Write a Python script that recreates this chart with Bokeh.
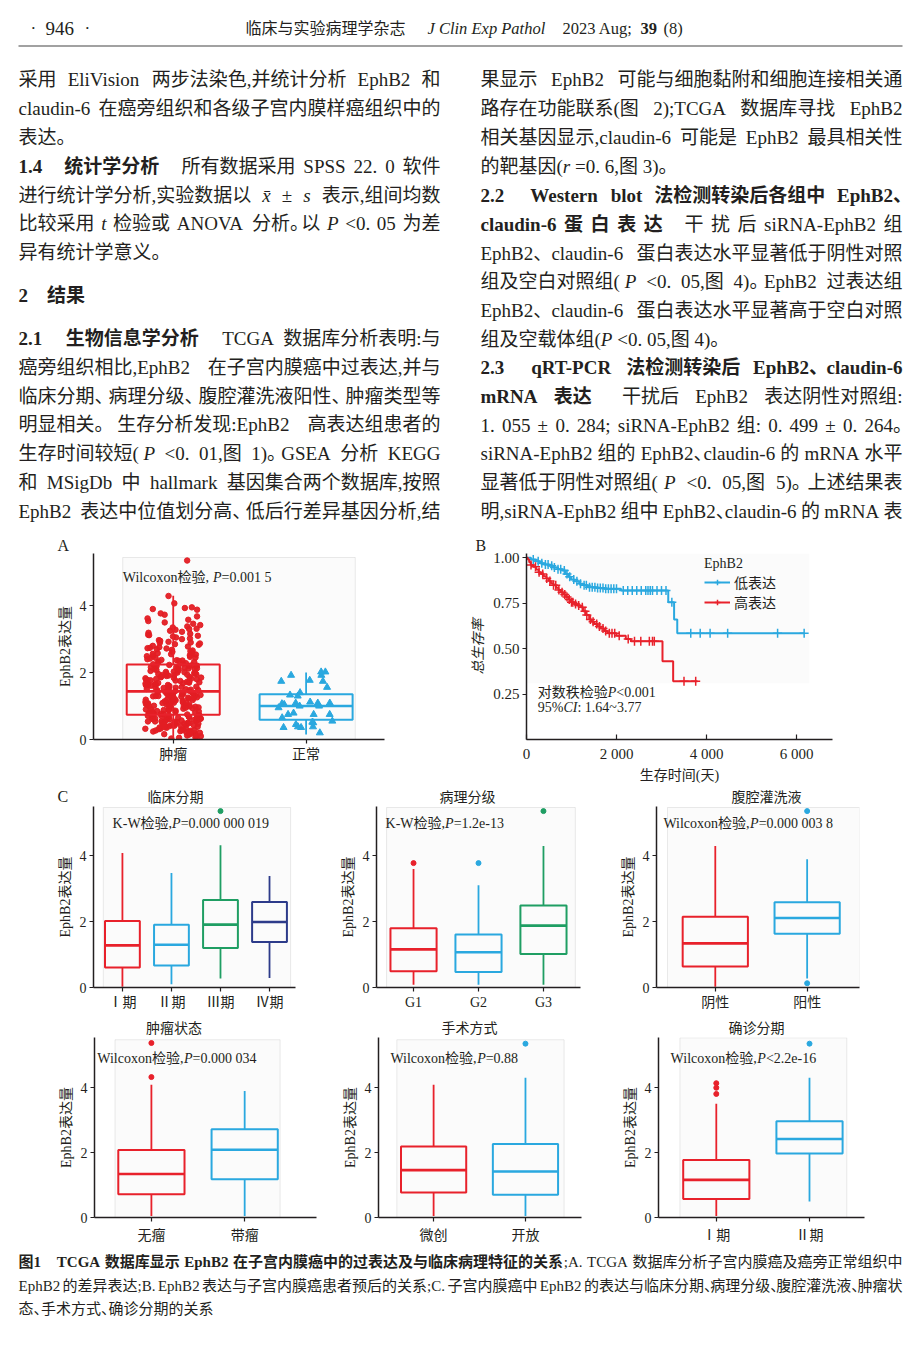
import numpy as np
from bokeh.plotting import figure
from bokeh.models import (ColumnDataSource, Range1d, FixedTicker, Label, BoxAnnotation,
                          Legend, LegendItem, NumeralTickFormatter, Title)
from bokeh.layouts import column, row
from bokeh.transform import jitter
from bokeh.core.properties import value
from bokeh.embed import file_html
from bokeh.resources import INLINE

FONT = "Liberation Serif, Noto Sans CJK SC"
TXT = "#231f20"
RED = "#e8212b"; BLUE = "#2aa8df"; GREEN = "#1f9e63"; NAVY = "#2d3b8a"
PANEL = "#f6f6f6"; PANEL_LINE = "#b8b8b8"

# ====================== DATA ======================
# Panel A: tumour vs normal
a_groups = ["肿瘤", "正常"]
a_q1 = [0.74, 0.59]
a_med = [1.44, 1.00]
a_q3 = [2.24, 1.35]
a_lo = [0.0, 0.15]
a_hi = [4.30, 2.00]
tumor_expr = [
    0.03, 0.05, 0.07, 0.09, 0.1, 0.12, 0.13, 0.15, 0.16, 0.18, 0.19, 0.21, 0.22, 0.24, 0.25, 0.26, 0.28, 0.29, 0.3, 0.31,
    0.33, 0.34, 0.35, 0.36, 0.38, 0.39, 0.4, 0.41, 0.42, 0.44, 0.45, 0.46, 0.47, 0.48, 0.5, 0.51, 0.52, 0.53, 0.54, 0.55,
    0.56, 0.57, 0.58, 0.59, 0.6, 0.61, 0.62, 0.63, 0.64, 0.65, 0.66, 0.67, 0.68, 0.69, 0.7, 0.71, 0.72, 0.73, 0.11, 0.2,
    0.27, 0.37, 0.43, 0.49, 0.57, 0.63, 0.68, 0.23, 0.32, 0.46, 0.54, 0.61, 0.66, 0.71, 0.4,
    0.75, 0.76, 0.77, 0.78, 0.79, 0.8, 0.81, 0.82, 0.84, 0.85, 0.86, 0.87, 0.88, 0.9, 0.91, 0.92, 0.93, 0.94, 0.96, 0.97,
    0.98, 0.99, 1.0, 1.01, 1.02, 1.03, 1.05, 1.06, 1.07, 1.08, 1.09, 1.1, 1.11, 1.12, 1.13, 1.15, 1.16, 1.17, 1.18, 1.19,
    1.2, 1.21, 1.22, 1.23, 1.25, 1.26, 1.27, 1.28, 1.29, 1.3, 1.31, 1.32, 1.33, 1.34, 1.35, 1.36, 1.37, 1.38, 1.39, 1.4,
    1.41, 1.42, 1.43, 0.83, 0.95, 1.04, 1.14, 1.24, 0.89, 1.0, 1.1, 1.2, 1.3, 1.38, 1.02,
    1.45, 1.46, 1.47, 1.48, 1.5, 1.51, 1.52, 1.53, 1.55, 1.56, 1.57, 1.58, 1.6, 1.61, 1.62, 1.63, 1.65, 1.66, 1.67, 1.68,
    1.7, 1.71, 1.72, 1.73, 1.75, 1.76, 1.77, 1.78, 1.8, 1.81, 1.82, 1.83, 1.85, 1.86, 1.87, 1.88, 1.9, 1.91, 1.92, 1.93,
    1.95, 1.96, 1.97, 1.98, 2.0, 2.01, 2.02, 2.03, 2.05, 2.06, 2.07, 2.08, 2.1, 2.11, 2.12, 2.13, 2.15, 2.16, 2.17, 2.18,
    2.19, 2.2, 2.21, 2.22, 2.23, 1.49, 1.64, 1.79, 1.94, 2.09, 1.54, 1.69, 1.84, 1.99, 2.14,
    2.25, 2.27, 2.28, 2.3, 2.32, 2.33, 2.35, 2.37, 2.38, 2.4, 2.42, 2.44, 2.45, 2.47, 2.49, 2.5, 2.52, 2.54, 2.56, 2.58,
    2.6, 2.62, 2.64, 2.66, 2.68, 2.7, 2.72, 2.74, 2.76, 2.78, 2.8, 2.83, 2.85, 2.87, 2.9, 2.92, 2.95, 2.97, 3.0, 3.02,
    3.05, 3.08, 3.1, 3.13, 3.16, 3.19, 3.22, 3.25, 3.28, 3.31, 3.35, 3.38, 3.42, 3.46, 3.5, 3.54, 3.58, 3.62, 3.68, 3.73,
    3.77, 3.88, 3.9, 3.93, 3.95, 4.07, 4.29, 2.36, 2.55, 2.73, 2.89, 3.12, 3.3, 5.35]
normal_expr = [2.02, 1.92, 2.02, 1.92, 1.74, 1.74, 1.77, 1.56, 1.40, 1.30, 1.33, 1.09, 1.07, 1.0, 0.95, 1.0, 1.09,
               1.09, 1.05, 1.12, 0.79, 0.75, 0.75, 0.75, 0.65, 0.55, 0.5, 0.52, 0.45, 0.36, 0.36, 0.38, 0.38, 0.20]

# Panel B: Kaplan-Meier
km_low_t = [0, 100, 200, 300, 400, 500, 600, 700, 800, 870, 930, 990, 1060, 1170, 1260, 1360, 1550, 1730, 2100, 3150, 3280, 3350]
km_low_s = [1.0, 0.99, 0.98, 0.97, 0.962, 0.955, 0.946, 0.937, 0.93, 0.91, 0.895, 0.88, 0.87, 0.857, 0.848, 0.838, 0.833, 0.829, 0.82, 0.755, 0.66, 0.585]
km_low_end = 6170
km_high_t = [0, 30, 60, 96, 150, 210, 270, 319, 380, 440, 500, 541, 600, 660, 710, 763, 820, 880, 940, 985, 1060, 1130,
             1207, 1260, 1319, 1393, 1450, 1504, 1580, 1652, 1730, 1800, 2000, 2207, 2319, 3022, 3259]
km_high_s = [1.0, 0.99, 0.975, 0.96, 0.95, 0.935, 0.92, 0.91, 0.898, 0.885, 0.872, 0.86, 0.848, 0.835, 0.822, 0.81, 0.797,
             0.784, 0.77, 0.755, 0.745, 0.737, 0.728, 0.705, 0.685, 0.66, 0.648, 0.635, 0.622, 0.61, 0.597, 0.585, 0.57,
             0.553, 0.54, 0.43, 0.32]
km_high_end = 3800
km_low_cens = [150, 260, 340, 420, 480, 560, 620, 700, 760, 840, 900, 960, 1050, 1120, 1200, 1280, 1330, 1400, 1460,
               1520, 1580, 1640, 1700, 1760, 1820, 1880, 1940, 2000, 2150, 2250, 2350, 2450, 2550, 2650, 2700, 2750,
               2800, 2900, 3000, 3100, 3230, 3650, 3860, 4080, 4470, 5580, 6170]
km_high_cens = [100, 200, 280, 360, 450, 520, 600, 650, 720, 790, 850, 900, 950, 1000, 1030, 1090, 1160, 1240, 1300,
                1340, 1420, 1480, 1560, 1620, 1700, 1760, 1840, 1900, 1960, 2060, 2260, 2400, 2540, 2730, 2800, 2840,
                3500, 3760]

# Panels C
c1_groups = ["Ⅰ期", "Ⅱ期", "Ⅲ期", "Ⅳ期"]
c1_q1 = [0.61, 0.67, 1.20, 1.38]; c1_med = [1.28, 1.30, 1.91, 1.99]; c1_q3 = [2.02, 1.91, 2.66, 2.60]
c1_lo = [0.02, 0.10, 0.27, 0.29]; c1_hi = [4.09, 3.48, 4.32, 3.39]
c1_out_g = [3]; c1_out_v = [5.36]

c2_groups = ["G1", "G2", "G3"]
c2_q1 = [0.49, 0.47, 1.02]; c2_med = [1.16, 1.07, 1.88]; c2_q3 = [1.80, 1.61, 2.49]
c2_lo = [0.08, 0.08, 0.08]; c2_hi = [3.60, 3.11, 4.30]
c2_out_g = [1, 2, 3]; c2_out_v = [3.78, 3.78, 5.36]

c3_groups = ["阴性", "阳性"]
c3_q1 = [0.64, 1.63]; c3_med = [1.34, 2.11]; c3_q3 = [2.15, 2.59]
c3_lo = [0.02, 0.27]; c3_hi = [4.30, 3.90]
c3_out_g = [2, 2]; c3_out_v = [0.13, 5.36]

c4_groups = ["无瘤", "带瘤"]
c4_q1 = [0.72, 1.18]; c4_med = [1.34, 2.09]; c4_q3 = [2.08, 2.72]
c4_lo = [0.05, 0.05]; c4_hi = [4.09, 3.90]
c4_out_g = [1, 1]; c4_out_v = [4.33, 5.38]

c5_groups = ["微创", "开放"]
c5_q1 = [0.77, 0.70]; c5_med = [1.46, 1.42]; c5_q3 = [2.19, 2.27]
c5_lo = [0.05, 0.05]; c5_hi = [4.09, 4.31]
c5_out_g = [2]; c5_out_v = [5.36]

c6_groups = ["Ⅰ期", "Ⅱ期"]
c6_q1 = [0.57, 1.97]; c6_med = [1.16, 2.42]; c6_q3 = [1.77, 2.97]
c6_lo = [0.05, 0.49]; c6_hi = [3.51, 4.31]
c6_out_g = [1, 1, 1, 2]; c6_out_v = [4.14, 4.00, 3.81, 5.36]

panel_titles = ["临床分期", "病理分级", "腹腔灌洗液", "肿瘤状态", "手术方式", "确诊分期"]
panel_letters = ["A", "B", "C"]

# ====================== TEXT ======================
N, BD, IT = 'n', 'b', 'i'
header_items = [("·", N, 30, 17), ("946", N, 45, 19), ("·", N, 84, 17),
                ("临床与实验病理学杂志", N, 245, 16), ("J Clin Exp Pathol", IT, 427, 16.5),
                ("2023 Aug;", N, 562, 16.5), ("39", BD, 640, 16.5), ("(8)", N, 663, 16.5)]
left_lines = [
    (79, [("采用 EliVision 两步法染色,并统计分析 EphB2 和", N)], True),
    (108, [("claudin-6 在癌旁组织和各级子宫内膜样癌组织中的", N)], True),
    (137, [("表达。", N)], False),
    (166, [("1.4\u3000统计学分析", BD), ("\u3000所有数据采用 SPSS 22. 0 软件", N)], True),
    (195, [("进行统计学分析,实验数据以 ", N), ("x\u0304", IT), (" ± ", N), ("s", IT), (" 表示,组间均数", N)], True),
    (223, [("比较采用 ", N), ("t", IT), (" 检验或 ANOVA 分析。以 ", N), ("P", IT), (" <0. 05 为差", N)], True),
    (252, [("异有统计学意义。", N)], False),
    (295, [("2\u3000结果", BD)], False),
    (338, [("2.1\u3000生物信息学分析", BD), ("\u3000TCGA 数据库分析表明:与", N)], True),
    (367, [("癌旁组织相比,EphB2 在子宫内膜癌中过表达,并与", N)], True),
    (396, [("临床分期、病理分级、腹腔灌洗液阳性、肿瘤类型等", N)], True),
    (424, [("明显相关。生存分析发现:EphB2 高表达组患者的", N)], True),
    (453, [("生存时间较短(", N), ("P", IT), (" <0. 01,图 1)。GSEA 分析 KEGG", N)], True),
    (482, [("和 MSigDb 中 hallmark 基因集合两个数据库,按照", N)], True),
    (511, [("EphB2 表达中位值划分高、低后行差异基因分析,结", N)], True),
]
right_lines = [
    (79, [("果显示 EphB2 可能与细胞黏附和细胞连接相关通", N)], True),
    (108, [("路存在功能联系(图 2);TCGA 数据库寻找 EphB2", N)], True),
    (137, [("相关基因显示,claudin-6 可能是 EphB2 最具相关性", N)], True),
    (166, [("的靶基因(", N), ("r", IT), (" =0. 6,图 3)。", N)], False),
    (195, [("2.2\u3000Western blot 法检测转染后各组中 EphB2、", BD)], True),
    (224, [("claudin-6 蛋 白 表 达", BD), ("\u3000干 扰 后 siRNA-EphB2 组", N)], True),
    (253, [("EphB2、claudin-6 蛋白表达水平显著低于阴性对照", N)], True),
    (281, [("组及空白对照组(", N), ("P", IT), (" <0. 05,图 4)。EphB2 过表达组", N)], True),
    (310, [("EphB2、claudin-6 蛋白表达水平显著高于空白对照", N)], True),
    (339, [("组及空载体组(", N), ("P", IT), (" <0. 05,图 4)。", N)], False),
    (367, [("2.3\u3000qRT-PCR 法检测转染后 EphB2、claudin-6", BD)], True),
    (396, [("mRNA 表达", BD), ("\u3000干扰后 EphB2 表达阴性对照组:", N)], True),
    (425, [("1. 055 ± 0. 284; siRNA-EphB2 组: 0. 499 ± 0. 264。", N)], True),
    (453, [("siRNA-EphB2 组的 EphB2、claudin-6 的 mRNA 水平", N)], True),
    (482, [("显著低于阴性对照组(", N), ("P", IT), (" <0. 05,图 5)。上述结果表", N)], True),
    (511, [("明,siRNA-EphB2 组中 EphB2、claudin-6 的 mRNA 表", N)], True),
]
caption_lines = [
    (1261, [("图1\u3000TCGA 数据库显示 EphB2 在子宫内膜癌中的过表达及与临床病理特征的关系", BD),
            (";A. TCGA 数据库分析子宫内膜癌及癌旁正常组织中", N)], True),
    (1285, [("EphB2 的差异表达;B. EphB2 表达与子宫内膜癌患者预后的关系;C. 子宫内膜癌中 EphB2 的表达与临床分期、病理分级、腹腔灌洗液、肿瘤状", N)], True),
    (1308, [("态、手术方式、确诊分期的关系", N)], False),
]

# ====================== TEXT METRICS ======================
UP = "ABCDEFGHIJKLMNOPQRSTUVWXYZ"; LO = "abcdefghijklmnopqrstuvwxyz"
TN = {c: 500 for c in "0123456789"}
TN.update({' ': 250, '%': 833, '(': 333, ')': 333, ',': 250, '-': 333, '.': 250, ':': 278, ';': 278, '<': 564,
           '=': 564, '~': 541, '±': 564, '\u0304': 0, '·': 250})
TN.update(dict(zip(UP, [722, 667, 667, 722, 611, 556, 722, 722, 333, 389, 722, 611, 889, 722, 722, 556, 722, 667, 556, 611, 722, 722, 944, 722, 722, 611])))
TN.update(dict(zip(LO, [444, 500, 444, 500, 444, 333, 500, 500, 278, 278, 500, 278, 778, 500, 500, 500, 500, 333, 389, 278, 500, 500, 722, 500, 500, 444])))
TB = dict(TN); TB.update({':': 333, ';': 333})
TB.update(dict(zip(UP, [722, 667, 722, 722, 667, 611, 778, 778, 389, 500, 778, 667, 944, 722, 778, 611, 778, 722, 556, 667, 722, 722, 1000, 722, 722, 667])))
TB.update(dict(zip(LO, [500, 556, 444, 556, 444, 333, 500, 556, 278, 333, 556, 278, 833, 556, 500, 556, 556, 444, 389, 333, 556, 500, 722, 500, 500, 444])))
TI = dict(TN)
TI.update(dict(zip(UP, [611, 611, 667, 722, 611, 611, 722, 722, 333, 444, 667, 556, 833, 667, 722, 611, 722, 611, 500, 556, 722, 611, 833, 611, 556, 556])))
TI.update(dict(zip(LO, [500, 500, 444, 500, 444, 278, 500, 500, 278, 278, 444, 278, 722, 500, 500, 500, 500, 389, 389, 278, 500, 444, 667, 444, 444, 389])))
STY = {N: "normal", BD: "bold", IT: "italic"}


def char_w(ch, st):
    o = ord(ch)
    if o >= 0x2E80 or 0x2150 <= o <= 0x218F:
        return 1000
    tbl = TB if st == BD else TI if st == IT else TN
    return tbl.get(ch, 500)


def tokenize(parts, size):
    toks = []
    gap = 0.0
    cur = None
    for text, st in parts:
        if cur is not None:
            toks.append(cur); cur = None
        for ch in text:
            if ch in (' ', '\u3000'):
                if cur is not None:
                    toks.append(cur); cur = None
                gap += (0.25 if ch == ' ' else 1.0) * size
                continue
            if cur is None:
                cur = {'text': '', 'style': st, 'w': 0.0, 'gap': gap}
                gap = 0.0
            cur['text'] += ch
            cur['w'] += char_w(ch, st) / 1000.0 * size
            if ch in '、。':
                cur['w'] -= 0.5 * size
                toks.append(cur); cur = None
    if cur is not None:
        toks.append(cur)
    return toks


def place(toks, x0, x1, justify):
    toks[0]['gap'] = 0.0
    total = sum(t['w'] + t['gap'] for t in toks)
    n = len(toks) - 1
    extra = (x1 - x0 - total) / n if (justify and n > 0) else 0.0
    x = x0
    for i, t in enumerate(toks):
        if i > 0:
            x += t['gap'] + extra
        t['x'] = x
        x += t['w']


def put_text(p, xs, ys, texts, size, st=N, align="left"):
    p.text(x=xs, y=ys, text=texts, text_font=value(FONT), text_font_size=value(f"{size}px"),
           text_font_style=value(STY[st]), text_baseline=value("middle"), text_align=value(align),
           text_color=TXT)


def draw_lines(p, lines, x0, x1, size):
    buckets = {}
    for y, parts, just in lines:
        toks = tokenize(parts, size)
        place(toks, x0, x1, just)
        for t in toks:
            b = buckets.setdefault(t['style'], {'x': [], 'y': [], 'text': []})
            b['x'].append(t['x']); b['y'].append(y); b['text'].append(t['text'])
    for st, d in buckets.items():
        put_text(p, d['x'], d['y'], d['text'], size, st)


def page_fig(h, ytop, ybot, w=920, x0=0):
    p = figure(width=w, height=h, x_range=Range1d(x0, x0 + w), y_range=Range1d(ybot, ytop),
               output_backend="svg", toolbar_location=None, title=None,
               x_axis_location=None, y_axis_location=None, min_border=0)
    p.grid.visible = False
    p.outline_line_color = None
    return p


def rich(p, x, y, parts, size=14, color=TXT):
    widths = [sum(char_w(c, st) for c in t) / 1000.0 * size for t, st in parts]
    off = 0.0
    for (t, st), w in zip(parts, widths):
        p.add_layout(Label(x=x, y=y, x_offset=off, text=t, text_font=FONT, text_font_size=f"{size}px",
                           text_font_style=STY[st], text_baseline="middle", text_align="left", text_color=color))
        off += w


def letter_title(p, text, offset):
    p.add_layout(Title(text=text, align="left", offset=offset, standoff=0, text_font=FONT,
                       text_font_size="16px", text_font_style="normal", text_color=TXT), "above")


def base_fig(w, h, ml, mr, mt, mb, xr, yr, lab_size="14px"):
    p = figure(width=w, height=h, x_range=Range1d(*xr), y_range=Range1d(*yr), output_backend="svg",
               toolbar_location=None, title=None, min_border_left=ml, min_border_right=mr,
               min_border_top=mt, min_border_bottom=mb)
    p.grid.visible = False
    p.outline_line_color = None
    for ax in (p.xaxis[0], p.yaxis[0]):
        ax.axis_line_color = TXT; ax.axis_line_width = 1.5
        ax.major_tick_line_color = TXT; ax.major_tick_line_width = 1.2
        ax.major_tick_out = 4; ax.major_tick_in = 0
        ax.minor_tick_line_color = None
        ax.major_label_text_font = FONT; ax.major_label_text_font_size = lab_size
        ax.major_label_text_color = TXT
        ax.axis_label_text_font = FONT; ax.axis_label_text_font_size = "14px"
        ax.axis_label_text_font_style = "normal"; ax.axis_label_text_color = TXT
        ax.major_label_standoff = 3
        ax.axis_label_standoff = 4
    return p


def draw_boxes(p, q1, med, q3, lo, hi, colors, width=0.71):
    xs = list(range(1, len(q1) + 1))
    src = ColumnDataSource(dict(x=xs, q1=q1, med=med, q3=q3, lo=lo, hi=hi, color=colors))
    p.segment(x0='x', y0='lo', x1='x', y1='q1', line_color='color', line_width=1.8, source=src)
    p.segment(x0='x', y0='q3', x1='x', y1='hi', line_color='color', line_width=1.8, source=src)
    p.vbar(x='x', width=width, bottom='q1', top='q3', fill_alpha=0, line_color='color', line_width=2, source=src)
    p.vbar(x='x', width=width, bottom='med', top='med', fill_alpha=0, line_color='color', line_width=2.6, source=src)


def box_panel(w, h, ml, mr, mt, mb, xr, ytop, groups, q1, med, q3, lo, hi, out_g, out_v, colors,
              panel, note, note_xy, label_standoff=3):
    p = base_fig(w, h, ml, mr, mt, mb, xr, (0, ytop))
    p.add_layout(BoxAnnotation(left=panel[0], right=panel[1], bottom=0, top=panel[2], fill_color=PANEL,
                               line_color=PANEL_LINE, line_width=1, level="underlay"))
    draw_boxes(p, q1, med, q3, lo, hi, colors)
    p.scatter(x=out_g, y=out_v, marker="circle", size=5, color=[colors[g - 1] for g in out_g])
    p.xaxis.ticker = FixedTicker(ticks=list(range(1, len(groups) + 1)))
    p.xaxis.major_label_overrides = {i + 1: g for i, g in enumerate(groups)}
    p.xaxis.major_label_standoff = label_standoff
    p.yaxis.ticker = FixedTicker(ticks=[0, 2, 4])
    p.yaxis.axis_label = "EphB2表达量"
    rich(p, note_xy[0], note_xy[1], note, size=14)
    return p


# ====================== PAGE TEXT ======================
ptext = page_fig(532, 0, 532)
for t, st, x, sz in header_items:
    put_text(ptext, [x], [28], [t], sz, st)
ptext.segment(x0=[18], y0=[45.5], x1=[902], y1=[45.5], line_color="#444444", line_width=1.2)
draw_lines(ptext, left_lines, 18, 440, 19)
draw_lines(ptext, right_lines, 480, 902, 19)

pcap = page_fig(93, 1245, 1338)
draw_lines(pcap, caption_lines, 18, 902, 15)

# bands holding panel letter C and the panel titles
band2 = page_fig(21, 785, 806)
put_text(band2, [57], [796], [panel_letters[2]], 16)
put_text(band2, [175, 467, 766], [797, 797, 797], panel_titles[:3], 14, align="center")
band3 = page_fig(25, 1012, 1037)
put_text(band3, [173.5, 469, 756], [1028, 1028, 1028], panel_titles[3:], 14, align="center")

# ====================== PANEL A ======================
pA = base_fig(460, 253, 93, 76, 21, 43, (0.40, 2.59), (0, 5.56))
letter_title(pA, panel_letters[0], -36)
pA.add_layout(BoxAnnotation(left=0.62, right=2.37, bottom=0, top=5.44, fill_color=PANEL,
                            line_color=PANEL_LINE, line_width=1, level="underlay"))
src_t = ColumnDataSource(dict(x=[1] * len(tumor_expr), y=tumor_expr))
pA.scatter(x=jitter('x', width=0.42, distribution='uniform'), y='y', source=src_t, marker="circle",
           size=5.5, color="#e31e24", alpha=0.95)
draw_boxes(pA, a_q1, a_med, a_q3, a_lo, a_hi, [RED, BLUE], width=0.70)
src_n = ColumnDataSource(dict(x=[2] * len(normal_expr), y=normal_expr))
pA.scatter(x=jitter('x', width=0.42, distribution='uniform'), y='y', source=src_n, marker="triangle",
           size=7, color=BLUE)
pA.xaxis.ticker = FixedTicker(ticks=[1, 2])
pA.xaxis.major_label_overrides = {1: a_groups[0], 2: a_groups[1]}
pA.yaxis.ticker = FixedTicker(ticks=[0, 2, 4])
pA.yaxis.axis_label = "EphB2表达量"
rich(pA, 0.62, 4.83, [("Wilcoxon检验, ", N), ("P", IT), ("=0.001 5", N)], size=14)

# ====================== PANEL B ======================
pB = base_fig(460, 253, 66, 88, 20, 43, (0, 6800), (0, 1.023), lab_size="15px")
letter_title(pB, panel_letters[1], -51)
pB.add_layout(BoxAnnotation(left=0, right=6280, bottom=0.31, top=1.023, fill_color=PANEL,
                            line_color=None, level="underlay"))


def surv_at(ts, ss, t):
    idx = np.searchsorted(np.asarray(ts), np.asarray(t), side='right') - 1
    return list(np.asarray(ss)[idx])


r_low = pB.step(km_low_t + [km_low_end], km_low_s + [km_low_s[-1]], mode="after", line_color=BLUE, line_width=2)
r_low_c = pB.scatter(km_low_cens, surv_at(km_low_t, km_low_s, km_low_cens), marker="cross", size=9,
                     line_color=BLUE, line_width=1.5)
r_high = pB.step(km_high_t + [km_high_end], km_high_s + [km_high_s[-1]], mode="after", line_color=RED, line_width=2)
r_high_c = pB.scatter(km_high_cens, surv_at(km_high_t, km_high_s, km_high_cens), marker="cross", size=9,
                      line_color=RED, line_width=1.5)
pB.xaxis.ticker = FixedTicker(ticks=[0, 2000, 4000, 6000])
pB.xaxis.major_label_overrides = {0: "0", 2000: "2 000", 4000: "4 000", 6000: "6 000"}
pB.xaxis.major_tick_in = 5; pB.xaxis.major_tick_out = 0
pB.xaxis.major_label_standoff = 6
pB.yaxis.ticker = FixedTicker(ticks=[0.25, 0.5, 0.75, 1.0])
pB.yaxis.formatter = NumeralTickFormatter(format="0.00")
pB.yaxis.axis_label = "总生存率"
pB.yaxis.axis_label_text_font_style = "italic"
pB.xaxis.axis_label = "生存时间(天)"
pB.xaxis.axis_label_standoff = 3
leg = Legend(items=[LegendItem(label="低表达", renderers=[r_low, r_low_c]),
                    LegendItem(label="高表达", renderers=[r_high, r_high_c])],
             title="EphB2", location=(176, 125))
leg.background_fill_alpha = 0; leg.border_line_alpha = 0
leg.label_text_font = FONT; leg.label_text_font_size = "14px"; leg.label_text_color = TXT
leg.title_text_font = FONT; leg.title_text_font_size = "14px"; leg.title_text_font_style = "normal"
leg.title_text_color = TXT
leg.glyph_width = 26; leg.glyph_height = 14; leg.spacing = 0; leg.padding = 2; leg.margin = 0
leg.label_standoff = 4; leg.title_standoff = 0
pB.add_layout(leg)
rich(pB, 250, 0.258, [("对数秩检验", N), ("P", IT), ("<0.001", N)], size=14)
rich(pB, 250, 0.178, [("95%", N), ("CI", IT), (": 1.64~3.77", N)], size=14)

# ====================== PANELS C ======================
pc1 = box_panel(330, 206, 93, 35, 0, 24, (0.41, 4.53), 5.50, c1_groups, c1_q1, c1_med, c1_q3, c1_lo, c1_hi,
                c1_out_g, c1_out_v, [RED, BLUE, GREEN, NAVY], (0.61, 4.43, 5.47),
                [("K-W检验,", N), ("P", IT), ("=0.000 000 019", N)], (0.80, 4.98))
pc2 = box_panel(270, 206, 46, 20, 0, 24, (0.43, 3.57), 5.50, c2_groups, c2_q1, c2_med, c2_q3, c2_lo, c2_hi,
                c2_out_g, c2_out_v, [RED, BLUE, GREEN], (0.585, 3.49, 5.47),
                [("K-W检验,", N), ("P", IT), ("=1.2e-13", N)], (0.57, 4.98))
pc3 = box_panel(320, 206, 56, 61, 0, 24, (0.36, 2.57), 5.50, c3_groups, c3_q1, c3_med, c3_q3, c3_lo, c3_hi,
                c3_out_g, c3_out_v, [RED, BLUE], (0.48, 2.57, 5.47),
                [("Wilcoxon检验,", N), ("P", IT), ("=0.000 003 8", N)], (0.435, 4.98))
pc4 = box_panel(330, 208, 94, 14, 0, 25, (0.39, 2.77), 5.55, c4_groups, c4_q1, c4_med, c4_q3, c4_lo, c4_hi,
                c4_out_g, c4_out_v, [RED, BLUE], (0.61, 2.38, 5.48),
                [("Wilcoxon检验,", N), ("P", IT), ("=0.000 034", N)], (0.42, 4.9), label_standoff=6)
pc5 = box_panel(270, 208, 48, 19, 0, 25, (0.40, 2.61), 5.55, c5_groups, c5_q1, c5_med, c5_q3, c5_lo, c5_hi,
                c5_out_g, c5_out_v, [RED, BLUE], (0.60, 2.42, 5.48),
                [("Wilcoxon检验,", N), ("P", IT), ("=0.88", N)], (0.53, 4.9), label_standoff=6)
pc6 = box_panel(320, 208, 58, 56, 0, 25, (0.38, 2.59), 5.55, c6_groups, c6_q1, c6_med, c6_q3, c6_lo, c6_hi,
                c6_out_g, c6_out_v, [RED, BLUE], (0.61, 2.40, 5.54),
                [("Wilcoxon检验,", N), ("P", IT), ("<2.2e-16", N)], (0.51, 4.9), label_standoff=6)

layout = column(ptext, row(pA, pB), band2, row(pc1, pc2, pc3), band3, row(pc4, pc5, pc6), pcap)
open("out.html", "w").write(file_html(layout, INLINE))
